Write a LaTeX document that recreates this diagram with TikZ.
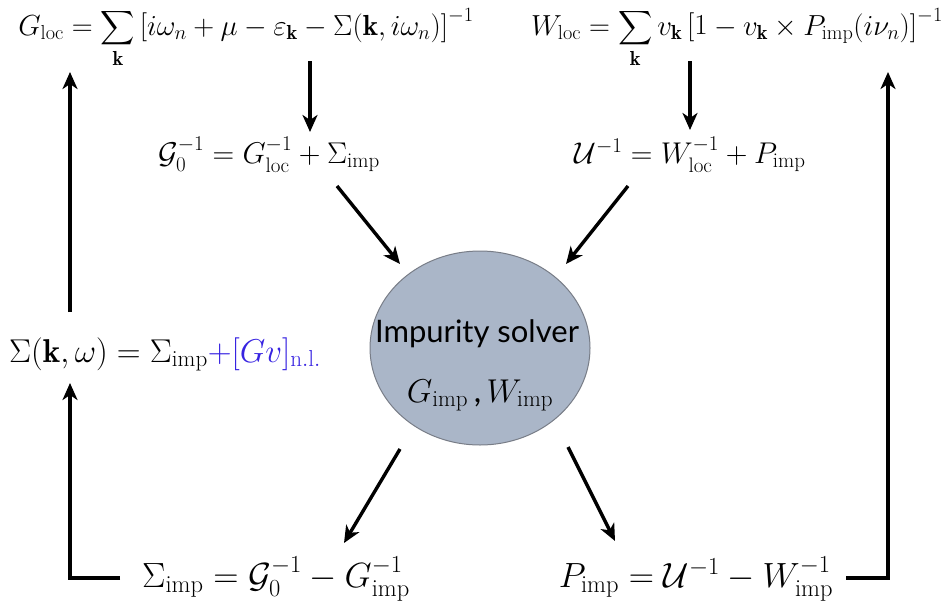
\RequirePackage{fix-cm}
\documentclass[tikz,border=0pt]{standalone}
\usepackage{amsmath,amssymb}
\usepackage{fontspec}
\newfontfamily\gillfont{Lato}
\usetikzlibrary{arrows.meta,shapes.geometric}
\definecolor{solverfill}{RGB}{170,182,200}
\definecolor{solverdraw}{RGB}{120,125,135}
\definecolor{nlblue}{RGB}{55,35,225}
\newcommand\ksum{\mathop{\vcenter{\hbox{\scalebox{0.82}{$\displaystyle\sum$}}}}\limits}
\tikzset{
  eq/.style={inner sep=0pt, anchor=base},
  topeq/.style={eq, font=\fontsize{29}{34}\selectfont},
  mideq/.style={eq, font=\fontsize{30}{36}\selectfont},
  boteq/.style={eq, font=\fontsize{35}{42}\selectfont},
  flow/.style={line width=3.4pt, -{Stealth[length=17pt,width=15pt,inset=5pt]}},
}
\begin{document}
\begin{tikzpicture}[x=1pt,y=-1pt]
\useasboundingbox (0,0) rectangle (952,605);
% top formulas
\node[topeq] (gloc) at (246,35) {$\displaystyle G_{\mathrm{loc}}=\ksum_{\mathbf{k}}\left[i\omega_n+\mu-\varepsilon_{\mathbf{k}}-\Sigma(\mathbf{k},i\omega_n)\right]^{-1}$};
\node[topeq] (wloc) at (737,35) {$\displaystyle W_{\mathrm{loc}}=\ksum_{\mathbf{k}}v_{\mathbf{k}}\left[1-v_{\mathbf{k}}\times P_{\mathrm{imp}}(i\nu_n)\right]^{-1}$};
% middle formulas
\node[mideq] (g0) at (269,163) {$\mathcal{G}_0^{-1}=G_{\mathrm{loc}}^{-1}+\Sigma_{\mathrm{imp}}$};
\node[mideq] (uinv) at (690,163) {$\mathcal{U}^{-1}=W_{\mathrm{loc}}^{-1}+P_{\mathrm{imp}}$};
% solver
\node[ellipse, fill=solverfill, draw=solverdraw, line width=1pt, minimum width=220pt, minimum height=194pt, inner sep=0pt] (solver) at (480,348) {};
\node[font=\gillfont\fontsize{31}{36}\selectfont, inner sep=0pt, anchor=base] (soltxt) at (477,342) {Impurity solver};
\node[eq, font=\fontsize{33}{38}\selectfont] (gw) at (480,402) {$G_{\mathrm{imp}}\,\text{\gillfont,}\,W_{\mathrm{imp}}$};
% sigma(k,w)
\node[eq, anchor=base west, font=\fontsize{33}{38}\selectfont] (sigk) at (9,362) {$\Sigma(\mathbf{k},\omega)=\Sigma_{\mathrm{imp}}{\color{nlblue}+[Gv]_{\mathrm{n.l.}}}$};
% bottom formulas
\node[boteq] (sigimp) at (276,587) {$\Sigma_{\mathrm{imp}}=\mathcal{G}_0^{-1}-G_{\mathrm{imp}}^{-1}$};
\node[boteq] (pimp) at (696,587) {$P_{\mathrm{imp}}=\mathcal{U}^{-1}-W_{\mathrm{imp}}^{-1}$};
% arrow end points
\coordinate (a1s) at (310,61);  \coordinate (a1e) at (310,132);
\coordinate (a2s) at (690,61);  \coordinate (a2e) at (690,130);
\coordinate (a3s) at (337,186); \coordinate (a3e) at (400,264);
\coordinate (a4s) at (628,186); \coordinate (a4e) at (566,264);
\coordinate (a5s) at (400,449); \coordinate (a5e) at (344,543);
\coordinate (a6s) at (568,447); \coordinate (a6e) at (615,541);
\coordinate (lup1s) at (70,312); \coordinate (lup1e) at (70,72);
\coordinate (lbr) at (70,578); \coordinate (lbe) at (120,578);
\coordinate (lup2e) at (70,383);
\coordinate (rbs) at (846,578); \coordinate (rbr) at (888,578); \coordinate (rup) at (888,72);
% arrows
\draw[flow] (a1s) -- (a1e);
\draw[flow] (a2s) -- (a2e);
\draw[flow] (a3s) -- (a3e);
\draw[flow] (a4s) -- (a4e);
\draw[flow] (a5s) -- (a5e);
\draw[flow] (a6s) -- (a6e);
\draw[flow] (lup1s) -- (lup1e);
\draw[flow] (lbe) -- (lbr) -- (lup2e);
\draw[flow] (rbs) -- (rbr) -- (rup);
\end{tikzpicture}
\end{document}
